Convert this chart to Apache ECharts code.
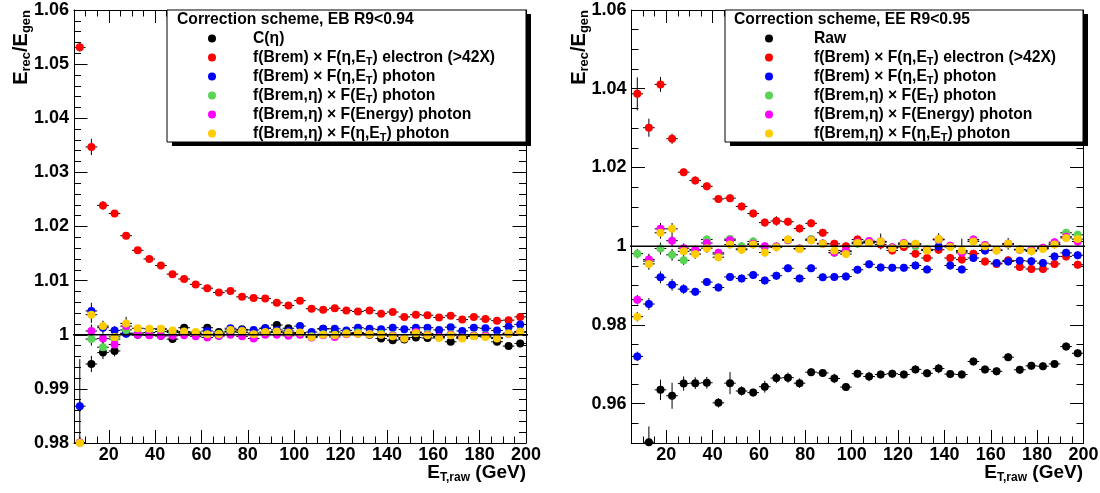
<!DOCTYPE html>
<html>
<head>
<meta charset="utf-8">
<script src="https://cdn.jsdelivr.net/npm/echarts@6/dist/echarts.min.js"></script>
<style>
  html, body { margin: 0; padding: 0; background: #fff; }
  #chart { width: 1100px; height: 493px; }
</style>
</head>
<body>
<div id="chart"></div>
<script>
// ---- E_T bins (bin centres, GeV) ----
const etBins = [7.5, 12.5, 17.5, 22.5, 27.5, 32.5, 37.5, 42.5, 47.5, 52.5, 57.5, 62.5, 67.5, 72.5,
  77.5, 82.5, 87.5, 92.5, 97.5, 102.5, 107.5, 112.5, 117.5, 122.5, 127.5, 132.5, 137.5, 142.5,
  147.5, 152.5, 157.5, 162.5, 167.5, 172.5, 177.5, 182.5, 187.5, 192.5, 197.5];
const binHalfWidth = 2.5;

// ---- Barrel (EB, R9<0.94): E_rec/E_gen per scheme ----
const ebCEta = [null, 0.9946, 0.9967, 0.9970, 1.0003, 1.0000, 1.0000, 0.9998, 0.9992, 1.0013, 1.0002, 1.0013, 1.0005, 1.0005,
  1.0010, 1.0003, 1.0012, 1.0018, 1.0012, 1.0003, 0.9997, 1.0011, 1.0005, 1.0003, 1.0003, 1.0000, 0.9993, 0.9990,
  0.9991, 0.9995, 0.9994, 0.9997, 0.9987, 0.9997, 0.9998, 0.9998, 0.9987, 0.9979, 0.9984];
const ebElectron = [1.0531, 1.0347, 1.0239, 1.0224, 1.0183, 1.0156, 1.0140, 1.0128, 1.0112, 1.0103, 1.0093, 1.0086, 1.0078, 1.0081,
  1.0070, 1.0068, 1.0067, 1.0059, 1.0054, 1.0063, 1.0048, 1.0046, 1.0049, 1.0045, 1.0043, 1.0045, 1.0039, 1.0042,
  1.0033, 1.0037, 1.0036, 1.0032, 1.0035, 1.0028, 1.0033, 1.0029, 1.0026, 1.0027, 1.0033];
const ebPhotonEtaEt = [0.9868, 1.0044, 1.0013, 1.0008, 1.0002, 1.0001, 1.0004, 1.0010, 1.0006, 1.0004, 1.0003, 1.0007, 0.9998, 1.0012,
  1.0009, 1.0009, 1.0012, 1.0009, 1.0007, 1.0016, 1.0005, 1.0011, 1.0011, 1.0008, 1.0013, 1.0011, 1.0010, 1.0013,
  1.0010, 1.0013, 1.0013, 1.0009, 1.0014, 1.0007, 1.0013, 1.0012, 1.0008, 1.0015, 1.0019];
const ebBremEtaEt = [0.9801, 0.9992, 0.9977, 0.9992, 1.0009, 1.0003, 1.0004, 1.0006, 1.0004, 1.0003, 1.0002, 1.0000, 1.0002, 1.0006,
  1.0004, 1.0000, 1.0003, 1.0004, 1.0002, 1.0002, 0.9997, 1.0001, 1.0000, 1.0003, 1.0004, 1.0002, 1.0002, 0.9999,
  0.9995, 1.0004, 1.0002, 0.9996, 1.0001, 0.9995, 0.9999, 0.9999, 0.9995, 1.0003, 1.0006];
const ebBremEtaEnergy = [0.9801, 1.0007, 0.9993, 0.9982, 1.0016, 1.0000, 0.9999, 0.9998, 0.9998, 0.9999, 0.9997, 0.9995, 0.9998, 1.0000,
  0.9997, 0.9993, 1.0000, 1.0000, 0.9998, 1.0000, 0.9995, 0.9999, 0.9996, 1.0001, 1.0002, 1.0001, 1.0000, 0.9998,
  0.9994, 1.0005, 1.0000, 0.9996, 1.0000, 0.9995, 0.9998, 0.9998, 0.9994, 1.0002, 1.0005];
const ebBremEtaEtaEt = [0.9800, 1.0037, 1.0016, 0.9996, 1.0021, 1.0012, 1.0011, 1.0011, 1.0008, 1.0006, 1.0005, 1.0001, 1.0001, 1.0009,
  1.0007, 1.0001, 1.0005, 1.0006, 1.0004, 1.0004, 0.9996, 1.0000, 0.9999, 1.0002, 1.0002, 1.0001, 1.0000, 0.9997,
  0.9993, 1.0003, 0.9999, 0.9994, 0.9999, 0.9993, 0.9997, 0.9996, 0.9993, 1.0002, 1.0005];

// statistical errors (barrel)
const ebCEtaErr = [0.0006, 0.0015, 0.0012, 0.0010, 0.0008, 0.0006, 0.0006, 0.0006, 0.0006, 0.0005, 0.0005, 0.0005, 0.0005, 0.0005,
  0.0005, 0.0005, 0.0005, 0.0005, 0.0005, 0.0005, 0.0005, 0.0005, 0.0005, 0.0005, 0.0005, 0.0005, 0.0005, 0.0005,
  0.0005, 0.0005, 0.0005, 0.0005, 0.0005, 0.0005, 0.0005, 0.0005, 0.0005, 0.0005, 0.0005];
const ebElectronErr = [0.0008, 0.0015, 0.0008, 0.0006, 0.0005, 0.0005, 0.0004, 0.0004, 0.0004, 0.0004, 0.0004, 0.0004, 0.0004, 0.0004,
  0.0004, 0.0004, 0.0004, 0.0004, 0.0004, 0.0004, 0.0004, 0.0004, 0.0004, 0.0004, 0.0004, 0.0004, 0.0004, 0.0004,
  0.0004, 0.0004, 0.0004, 0.0004, 0.0004, 0.0004, 0.0004, 0.0004, 0.0004, 0.0004, 0.0004];
const ebPhotonEtaEtErr = [0.0010, 0.0015, 0.0010, 0.0008, 0.0006, 0.0005, 0.0005, 0.0005, 0.0005, 0.0005, 0.0005, 0.0005, 0.0005, 0.0005,
  0.0005, 0.0005, 0.0005, 0.0005, 0.0005, 0.0005, 0.0005, 0.0005, 0.0005, 0.0005, 0.0005, 0.0005, 0.0005, 0.0005,
  0.0005, 0.0005, 0.0005, 0.0005, 0.0005, 0.0005, 0.0005, 0.0005, 0.0005, 0.0005, 0.0005];
const ebBremEtaEtErr = [0.0010, 0.0012, 0.0010, 0.0008, 0.0006, 0.0005, 0.0005, 0.0005, 0.0005, 0.0005, 0.0005, 0.0005, 0.0005, 0.0005,
  0.0005, 0.0005, 0.0005, 0.0005, 0.0005, 0.0005, 0.0005, 0.0005, 0.0005, 0.0005, 0.0005, 0.0005, 0.0005, 0.0005,
  0.0005, 0.0005, 0.0005, 0.0005, 0.0005, 0.0005, 0.0005, 0.0005, 0.0005, 0.0005, 0.0005];
const ebBremEtaEnergyErr = [0.0010, 0.0012, 0.0010, 0.0008, 0.0006, 0.0005, 0.0005, 0.0005, 0.0005, 0.0005, 0.0005, 0.0005, 0.0005, 0.0005,
  0.0005, 0.0005, 0.0005, 0.0005, 0.0005, 0.0005, 0.0005, 0.0005, 0.0005, 0.0005, 0.0005, 0.0005, 0.0005, 0.0005,
  0.0005, 0.0005, 0.0005, 0.0005, 0.0005, 0.0005, 0.0005, 0.0005, 0.0005, 0.0005, 0.0005];
const ebBremEtaEtaEtErr = [0.0155, 0.0015, 0.0010, 0.0008, 0.0012, 0.0005, 0.0005, 0.0005, 0.0005, 0.0005, 0.0005, 0.0005, 0.0005, 0.0005,
  0.0005, 0.0005, 0.0005, 0.0005, 0.0005, 0.0005, 0.0005, 0.0005, 0.0005, 0.0005, 0.0005, 0.0005, 0.0005, 0.0005,
  0.0005, 0.0005, 0.0005, 0.0005, 0.0005, 0.0005, 0.0005, 0.0005, 0.0005, 0.0005, 0.0005];

// ---- Endcap (EE, R9<0.95): E_rec/E_gen per scheme ----
const eeRaw = [null, 0.9502, 0.9635, 0.9620, 0.9651, 0.9652, 0.9653, 0.9602, 0.9652, 0.9632, 0.9628, 0.9643, 0.9665, 0.9666,
  0.9652, 0.9680, 0.9678, 0.9664, 0.9642, 0.9676, 0.9669, 0.9674, 0.9676, 0.9674, 0.9687, 0.9677, 0.9689, 0.9675,
  0.9674, 0.9707, 0.9687, 0.9682, 0.9718, 0.9686, 0.9696, 0.9695, 0.9701, 0.9745, 0.9728];
const eeElectron = [1.0387, 1.0301, 1.0411, 1.0273, 1.0188, 1.0167, 1.0152, 1.0120, 1.0122, 1.0101, 1.0083, 1.0060, 1.0064, 1.0062,
  1.0045, 1.0058, 1.0034, 1.0006, 1.0000, 1.0017, 1.0010, 1.0004, 0.9989, 0.9998, 0.9981, 0.9970, 0.9991, 0.9970,
  0.9966, 0.9981, 0.9961, 0.9955, 0.9964, 0.9947, 0.9942, 0.9942, 0.9955, 0.9974, 0.9953];
const eePhotonEtaEt = [0.9720, 0.9853, 0.9921, 0.9902, 0.9891, 0.9884, 0.9909, 0.9895, 0.9922, 0.9918, 0.9927, 0.9913, 0.9925, 0.9944,
  0.9918, 0.9944, 0.9921, 0.9922, 0.9923, 0.9940, 0.9954, 0.9946, 0.9945, 0.9945, 0.9951, 0.9941, 0.9999, 0.9951,
  0.9941, 0.9970, 0.9989, 0.9957, 0.9961, 0.9963, 0.9962, 0.9957, 0.9974, 0.9983, 0.9977];
const eeBremEtaEt = [0.9981, 0.9962, 0.9994, 0.9978, 0.9964, 0.9990, 1.0017, 0.9980, 1.0018, 1.0000, 1.0012, 0.9998, 0.9999, 1.0015,
  0.9994, 1.0018, 1.0006, 0.9983, 0.9986, 1.0006, 1.0011, 1.0010, 0.9997, 1.0005, 1.0000, 0.9992, 1.0016, 1.0000,
  0.9986, 1.0013, 1.0002, 0.9990, 1.0005, 0.9992, 0.9989, 0.9995, 1.0006, 1.0034, 1.0029];
const eeBremEtaEnergy = [0.9864, 0.9966, 1.0044, 1.0014, 0.9995, 0.9991, 1.0008, 0.9983, 1.0015, 0.9993, 1.0006, 1.0000, 0.9999, 1.0016,
  0.9994, 1.0016, 1.0007, 0.9984, 0.9988, 1.0010, 1.0013, 1.0012, 0.9997, 1.0008, 1.0005, 0.9990, 1.0017, 1.0001,
  0.9983, 1.0017, 1.0003, 0.9990, 1.0006, 0.9991, 0.9990, 0.9996, 1.0010, 1.0024, 1.0012];
const eeBremEtaEtaEt = [0.9821, 0.9955, 1.0034, 1.0044, 0.9987, 0.9980, 0.9995, 0.9972, 1.0004, 0.9991, 1.0004, 0.9984, 0.9997, 1.0017,
  0.9993, 1.0015, 1.0006, 0.9989, 0.9980, 1.0008, 1.0008, 1.0012, 0.9995, 1.0006, 1.0006, 0.9989, 1.0018, 0.9998,
  0.9989, 1.0012, 1.0000, 0.9989, 1.0006, 0.9991, 0.9987, 0.9993, 1.0004, 1.0021, 1.0018];

// statistical errors (endcap)
const eeRawErr = [0.0010, 0.0040, 0.0026, 0.0033, 0.0018, 0.0015, 0.0015, 0.0012, 0.0028, 0.0012, 0.0010, 0.0015, 0.0013, 0.0013,
  0.0012, 0.0010, 0.0010, 0.0012, 0.0010, 0.0010, 0.0012, 0.0010, 0.0010, 0.0010, 0.0010, 0.0010, 0.0012, 0.0010,
  0.0010, 0.0010, 0.0010, 0.0010, 0.0010, 0.0010, 0.0010, 0.0010, 0.0010, 0.0010, 0.0010];
const eeElectronErr = [0.0042, 0.0023, 0.0019, 0.0013, 0.0010, 0.0010, 0.0010, 0.0010, 0.0010, 0.0010, 0.0010, 0.0010, 0.0012, 0.0010,
  0.0010, 0.0010, 0.0010, 0.0010, 0.0010, 0.0010, 0.0010, 0.0010, 0.0010, 0.0010, 0.0010, 0.0010, 0.0010, 0.0010,
  0.0010, 0.0010, 0.0010, 0.0010, 0.0010, 0.0010, 0.0010, 0.0010, 0.0010, 0.0010, 0.0010];
const eePhotonEtaEtErr = [0.0012, 0.0015, 0.0015, 0.0015, 0.0012, 0.0010, 0.0010, 0.0010, 0.0010, 0.0010, 0.0010, 0.0010, 0.0010, 0.0010,
  0.0010, 0.0010, 0.0010, 0.0010, 0.0010, 0.0010, 0.0010, 0.0010, 0.0010, 0.0010, 0.0010, 0.0010, 0.0010, 0.0010,
  0.0010, 0.0010, 0.0010, 0.0010, 0.0010, 0.0010, 0.0010, 0.0010, 0.0010, 0.0010, 0.0010];
const eeBremEtaEtErr = [0.0012, 0.0015, 0.0015, 0.0015, 0.0012, 0.0010, 0.0010, 0.0010, 0.0010, 0.0010, 0.0010, 0.0010, 0.0010, 0.0010,
  0.0010, 0.0010, 0.0010, 0.0010, 0.0010, 0.0010, 0.0010, 0.0010, 0.0010, 0.0010, 0.0010, 0.0010, 0.0010, 0.0010,
  0.0010, 0.0010, 0.0010, 0.0010, 0.0010, 0.0010, 0.0010, 0.0010, 0.0010, 0.0010, 0.0010];
const eeBremEtaEnergyErr = [0.0012, 0.0015, 0.0015, 0.0015, 0.0012, 0.0010, 0.0010, 0.0010, 0.0010, 0.0010, 0.0010, 0.0010, 0.0010, 0.0010,
  0.0010, 0.0010, 0.0010, 0.0010, 0.0010, 0.0010, 0.0010, 0.0010, 0.0010, 0.0010, 0.0010, 0.0010, 0.0010, 0.0010,
  0.0010, 0.0010, 0.0010, 0.0010, 0.0010, 0.0010, 0.0010, 0.0010, 0.0010, 0.0010, 0.0010];
const eeBremEtaEtaEtErr = [0.0012, 0.0015, 0.0015, 0.0015, 0.0012, 0.0012, 0.0012, 0.0010, 0.0010, 0.0010, 0.0010, 0.0010, 0.0010, 0.0010,
  0.0010, 0.0010, 0.0010, 0.0010, 0.0010, 0.0010, 0.0010, 0.0020, 0.0010, 0.0010, 0.0010, 0.0010, 0.0015, 0.0010,
  0.0030, 0.0010, 0.0010, 0.0010, 0.0015, 0.0010, 0.0010, 0.0010, 0.0010, 0.0010, 0.0010];

// ---- axis ticks ----
const xMajorTicks = [20, 40, 60, 80, 100, 120, 140, 160, 180, 200];
const ebYMajorTicks = [0.98, 0.99, 1.00, 1.01, 1.02, 1.03, 1.04, 1.05, 1.06];
const eeYMajorTicks = [0.96, 0.98, 1.00, 1.02, 1.04, 1.06];

function minorTicks(from, to, step, majors) {
  const out = [];
  const n = Math.round((to - from) / step);
  for (let i = 0; i <= n; i++) {
    const v = +(from + i * step).toFixed(4);
    if (!majors.some(m => Math.abs(m - v) < step / 10)) out.push(v);
  }
  return out;
}
const xMinorTicks = minorTicks(5, 200, 5, xMajorTicks);
const ebYMinorTicks = minorTicks(0.98, 1.06, 0.002, ebYMajorTicks);
const eeYMinorTicks = minorTicks(0.95, 1.06, 0.005, eeYMajorTicks);

// ---- styling ----
const FONT = "'Liberation Sans', Arial, Helvetica, sans-serif";
const COLORS = {
  black: '#000000', red: '#ff0000', blue: '#0000ff',
  green: '#59d454', magenta: '#ff00ff', yellow: '#ffcc00'
};

const N_ELECTRON = 'f(Brem) × F(η,E_T) electron (>42X)';
const N_PHOTON = 'f(Brem) × F(η,E_T) photon';
const N_BREM_ET = 'f(Brem,η) × F(E_T) photon';
const N_BREM_ENERGY = 'f(Brem,η) × F(Energy) photon';
const N_BREM_ETAET = 'f(Brem,η) × F(η,E_T) photon';

// rich-text versions of the scheme names (subscript T)
const richName = {
  'C(η)': 'C(η)',
  'Raw': 'Raw',
  [N_ELECTRON]: 'f(Brem) × F(η,E{s|T}) electron (>42X)',
  [N_PHOTON]: 'f(Brem) × F(η,E{s|T}) photon',
  [N_BREM_ET]: 'f(Brem,η) × F(E{s|T}) photon',
  [N_BREM_ENERGY]: 'f(Brem,η) × F(Energy) photon',
  [N_BREM_ETAET]: 'f(Brem,η) × F(η,E{s|T}) photon'
};

const panels = [
  {
    grid: { left: 74, top: 10, width: 452, height: 433 },
    yMin: 0.98, yMax: 1.06, yMajor: ebYMajorTicks, yMinor: ebYMinorTicks,
    series: [
      { name: 'C(η)', color: COLORS.black, y: ebCEta, err: ebCEtaErr },
      { name: N_ELECTRON, color: COLORS.red, y: ebElectron, err: ebElectronErr },
      { name: N_PHOTON, color: COLORS.blue, y: ebPhotonEtaEt, err: ebPhotonEtaEtErr },
      { name: N_BREM_ET, color: COLORS.green, y: ebBremEtaEt, err: ebBremEtaEtErr },
      { name: N_BREM_ENERGY, color: COLORS.magenta, y: ebBremEtaEnergy, err: ebBremEtaEnergyErr },
      { name: N_BREM_ETAET, color: COLORS.yellow, y: ebBremEtaEtaEt, err: ebBremEtaEtaEtErr }
    ]
  },
  {
    grid: { left: 631.5, top: 10, width: 452, height: 433 },
    yMin: 0.95, yMax: 1.06, yMajor: eeYMajorTicks, yMinor: eeYMinorTicks,
    series: [
      { name: 'Raw', color: COLORS.black, y: eeRaw, err: eeRawErr },
      { name: N_ELECTRON, color: COLORS.red, y: eeElectron, err: eeElectronErr },
      { name: N_PHOTON, color: COLORS.blue, y: eePhotonEtaEt, err: eePhotonEtaEtErr },
      { name: N_BREM_ET, color: COLORS.green, y: eeBremEtaEt, err: eeBremEtaEtErr },
      { name: N_BREM_ENERGY, color: COLORS.magenta, y: eeBremEtaEnergy, err: eeBremEtaEnergyErr },
      { name: N_BREM_ETAET, color: COLORS.yellow, y: eeBremEtaEtaEt, err: eeBremEtaEtaEtErr }
    ]
  }
];

const labelStyle = { color: '#000', fontFamily: FONT, fontWeight: 'bold', fontSize: 18 };
const lineBlack = { color: '#000', width: 1 };

function fmtTick(v) { return String(parseFloat((+v).toFixed(3))); }

function axisSet(kind, gridIndex, min, max, major, minor, tickMajor, tickMinor) {
  const sides = kind === 'x' ? ['bottom', 'top'] : ['left', 'right'];
  const base = {
    type: 'value', gridIndex, min, max,
    splitLine: { show: false }, axisPointer: { show: false },
    axisLine: { show: false, onZero: false }, axisLabel: { show: false }
  };
  const out = [];
  sides.forEach((pos, k) => {
    out.push(Object.assign({}, base, {
      position: pos,
      axisLine: { show: true, onZero: false, lineStyle: lineBlack },
      axisTick: { show: true, inside: true, length: tickMajor, customValues: major, lineStyle: lineBlack },
      axisLabel: k === 0
        ? Object.assign({ show: true, customValues: major, margin: kind === 'x' ? 3 : 5, formatter: fmtTick }, labelStyle)
        : { show: false }
    }));
    out.push(Object.assign({}, base, {
      position: pos,
      axisTick: { show: true, inside: true, length: tickMinor, customValues: minor, lineStyle: lineBlack }
    }));
  });
  return out;
}

const xAxes = [], yAxes = [], series = [];
panels.forEach((p, gi) => {
  const xi = xAxes.length, yi = yAxes.length;
  xAxes.push(...axisSet('x', gi, 5, 200, xMajorTicks, xMinorTicks, 13, 6.5));
  yAxes.push(...axisSet('y', gi, p.yMin, p.yMax, p.yMajor, p.yMinor, 13.5, 7));

  p.series.forEach(s => {
    const pts = [];
    etBins.forEach((x, i) => { if (s.y[i] != null) pts.push([x, s.y[i], s.err[i]]); });
    // error bars: +-half bin in E_T, +-stat. error in the ratio
    series.push({
      type: 'custom', name: s.name + ' (errors)', xAxisIndex: xi, yAxisIndex: yi,
      clip: true, silent: true, data: pts, encode: { x: 0, y: 1 },
      renderItem: function (params, api) {
        const x = api.value(0), y = api.value(1), e = api.value(2);
        const c = api.coord([x, y]);
        const l = api.coord([x - binHalfWidth, y]);
        const r = api.coord([x + binHalfWidth, y]);
        const t = api.coord([x, y + e]);
        const b = api.coord([x, y - e]);
        const st = { stroke: '#000', lineWidth: 1 };
        return {
          type: 'group', children: [
            { type: 'line', shape: { x1: l[0], y1: c[1], x2: r[0], y2: c[1] }, style: st },
            { type: 'line', shape: { x1: c[0], y1: t[1], x2: c[0], y2: b[1] }, style: st }
          ]
        };
      }
    });
    series.push({
      type: 'scatter', name: s.name, xAxisIndex: xi, yAxisIndex: yi,
      data: pts, encode: { x: 0, y: 1 }, clip: false, silent: true,
      symbol: 'circle', symbolSize: 8,
      itemStyle: { color: s.color, opacity: 1 }
    });
  });

  // reference line at E_rec/E_gen = 1
  series.push({
    type: 'line', xAxisIndex: xi, yAxisIndex: yi, clip: false, silent: true, z: 5,
    data: [[4, 1], [212, 1]], symbol: 'none',
    lineStyle: { color: '#000', width: 1.5 }
  });
});

const legendText = {
  color: '#000', fontFamily: FONT, fontWeight: 'bold', fontSize: 15.7, lineHeight: 19,
  rich: {
    s: { color: '#000', fontFamily: FONT, fontWeight: 'bold', fontSize: 11, lineHeight: 7, verticalAlign: 'bottom' }
  }
};

// the legend block is placed by its content box, whose left edge is the marker's left edge
function legendFor(names, left, itemWidth) {
  return {
    data: names, orient: 'vertical', left, top: 29, padding: 0,
    itemWidth, itemHeight: 8, itemGap: 0, icon: 'circle',
    selectedMode: false, z: 60,
    formatter: n => richName[n] || n,
    textStyle: legendText
  };
}

const titleRich = (main, sub, subLH) => ({
  m: { fontFamily: FONT, fontWeight: 'bold', fontSize: main, lineHeight: main + 3, fill: '#000' },
  s: { fontFamily: FONT, fontWeight: 'bold', fontSize: sub, lineHeight: subLH, verticalAlign: 'bottom', fill: '#000' }
});

function legendBox(x, y, w, h) {
  return [
    { type: 'rect', z: 50, silent: true, shape: { x: x + 5, y: y + 4, width: w, height: h }, style: { fill: '#000' } },
    { type: 'rect', z: 51, silent: true, shape: { x, y, width: w, height: h }, style: { fill: '#fff', stroke: '#000', lineWidth: 1 } }
  ];
}
function headText(x, y, text) {
  return { type: 'text', z: 55, silent: true, x, y,
    style: { text, fill: '#000', fontFamily: FONT, fontWeight: 'bold', fontSize: 15.7, verticalAlign: 'middle', align: 'left' } };
}
function yTitle(x) {
  return { type: 'text', z: 55, silent: true, x, y: 10, rotation: Math.PI / 2,
    style: { text: '{m|E}{s|rec}{m|/E}{s|gen}', rich: titleRich(20, 13, 8), align: 'right', verticalAlign: 'middle' } };
}
function xTitle(x) {
  return { type: 'text', z: 55, silent: true, x, y: 473,
    style: { text: '{m|E}{s|T,raw}{m| (GeV)}', rich: titleRich(19, 12, 10), align: 'right', verticalAlign: 'middle' } };
}

const option = {
  animation: false,
  backgroundColor: '#fff',
  grid: panels.map(p => Object.assign({ outerBoundsMode: 'none', containLabel: false }, p.grid)),
  xAxis: xAxes,
  yAxis: yAxes,
  legend: [
    legendFor(['C(η)', N_ELECTRON, N_PHOTON, N_BREM_ET, N_BREM_ENERGY, N_BREM_ETAET], 208, 72),
    legendFor(['Raw', N_ELECTRON, N_PHOTON, N_BREM_ET, N_BREM_ENERGY, N_BREM_ETAET], 765, 80)
  ],
  graphic: [
    ...legendBox(167, 10, 359, 132),
    ...legendBox(725, 10, 358, 132),
    headText(177, 20, 'Correction scheme, EB R9<0.94'),
    headText(734, 20, 'Correction scheme, EE R9<0.95'),
    yTitle(21), yTitle(579),
    xTitle(526), xTitle(1083)
  ],
  series
};

const chart = echarts.init(document.getElementById('chart'), null, { renderer: 'canvas' });
chart.setOption(option);
</script>
</body>
</html>
